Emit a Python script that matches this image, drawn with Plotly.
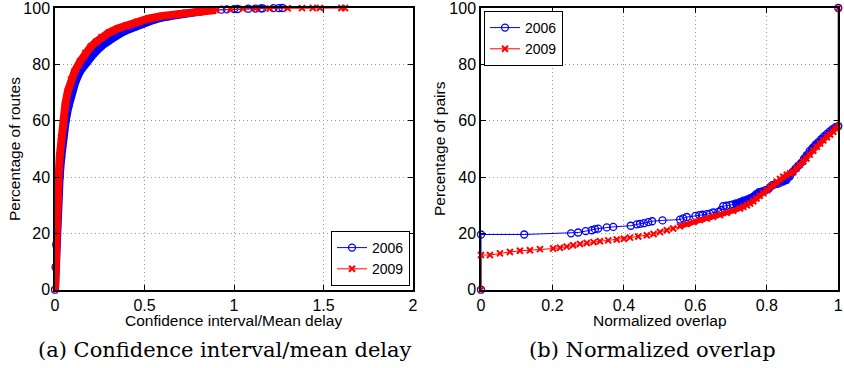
import plotly.graph_objects as go

# ---------------- (a) Confidence interval / mean delay (CDF) ----------------
a_2006_x = [0, 0.003, 0.007, 0.012, 0.018, 0.026, 0.035, 0.045, 0.06, 0.075, 0.092, 0.115,
            0.14, 0.18, 0.22, 0.26, 0.30, 0.34, 0.39, 0.45, 0.50, 0.56, 0.63, 0.72, 0.82,
            0.93, 0.96, 1.0, 1.02, 1.08, 1.12, 1.15, 1.16, 1.22, 1.25, 1.27]
a_2006_y = [0, 8, 16, 25, 33, 40, 47, 54, 60, 65, 70, 74,
            77.5, 81, 84, 86.5, 88.5, 90, 91.8, 93.5, 94.8, 96, 97, 98, 98.8,
            99.4, 99.5, 99.6, 99.65, 99.75, 99.8, 99.85, 99.9, 99.95, 99.98, 100]

a_2009_x = [0, 0.002, 0.005, 0.009, 0.014, 0.02, 0.026, 0.034, 0.045, 0.058, 0.072, 0.09,
            0.11, 0.14, 0.17, 0.20, 0.23, 0.26, 0.30, 0.35, 0.40, 0.46, 0.52, 0.60, 0.70,
            0.80, 0.90, 0.98, 1.05, 1.12, 1.20, 1.30, 1.38, 1.44, 1.48, 1.60, 1.62]
a_2009_y = [0, 8, 16, 25, 33, 40, 47, 54, 60, 66, 70.5, 74.5,
            77.5, 81, 84, 86.3, 88, 89.6, 91.2, 92.7, 93.9, 95.1, 96.2, 97.2, 98.1,
            98.8, 99.3, 99.5, 99.7, 99.8, 99.85, 99.9, 99.95, 99.97, 100, 100, 100]

# ---------------- (b) Normalized overlap (CDF) ----------------
b_2006_x = [0, 0, 0.121, 0.252, 0.272, 0.293, 0.310, 0.319, 0.328, 0.352, 0.370, 0.419,
            0.436, 0.445, 0.456, 0.468, 0.479, 0.508, 0.557, 0.566, 0.576, 0.600, 0.611,
            0.620, 0.632, 0.641, 0.650, 0.664, 0.672, 0.678, 0.687, 0.697, 0.705, 0.714,
            0.725, 0.734, 0.744, 0.753, 0.762, 0.770, 0.778, 0.787, 0.796, 0.805, 0.814,
            0.822, 0.830, 0.838, 0.846, 0.855, 0.864, 0.872, 0.880, 0.888, 0.896, 0.904,
            0.912, 0.920, 0.928, 0.936, 0.944, 0.952, 0.960, 0.968, 0.976, 0.984, 0.992,
            1.0, 1.0]
b_2006_y = [0, 19.6, 19.6, 20.0, 20.3, 20.8, 21.1, 21.5, 21.7, 22.1, 22.3, 22.7,
            23.2, 23.4, 23.6, 24.0, 24.3, 24.6, 24.9, 25.3, 25.8, 26.2, 26.5,
            26.6, 26.8, 27.0, 27.4, 27.6, 28.3, 29.7, 29.8, 30.0, 30.3, 30.6,
            31.1, 31.6, 32.0, 32.5, 33.0, 33.9, 34.6, 34.9, 35.3, 35.8, 37.0,
            37.4, 37.6, 38.0, 38.5, 38.9, 40.2, 41.8, 43.0, 44.0, 45.0, 46.5,
            47.8, 49.3, 50.3, 51.5, 52.4, 53.4, 54.4, 55.3, 56.2, 57.0, 57.7,
            58.1, 100]

b_2009_x = [0, 0, 0.025, 0.053, 0.081, 0.109, 0.137, 0.165, 0.202, 0.221, 0.240, 0.258,
            0.277, 0.296, 0.315, 0.333, 0.356, 0.380, 0.400, 0.417, 0.440, 0.464, 0.483,
            0.501, 0.520, 0.538, 0.557, 0.576, 0.595, 0.613, 0.632, 0.650, 0.669, 0.688,
            0.706, 0.725, 0.734, 0.744, 0.753, 0.762, 0.771, 0.780, 0.790, 0.800, 0.809,
            0.818, 0.828, 0.837, 0.846, 0.856, 0.865, 0.874, 0.883, 0.892, 0.902, 0.911,
            0.920, 0.930, 0.940, 0.949, 0.958, 0.968, 0.977, 0.986, 0.993, 1.0, 1.0]
b_2009_y = [0, 12.3, 12.3, 12.9, 13.4, 13.8, 14.0, 14.4, 14.6, 14.9, 15.3, 15.8,
            16.2, 16.6, 16.9, 17.2, 17.5, 17.8, 18.1, 18.5, 18.9, 19.3, 19.8,
            20.5, 21.1, 21.7, 22.5, 23.3, 24.0, 24.7, 25.3, 25.9, 26.5, 27.3,
            28.0, 28.8, 29.4, 30.0, 30.6, 31.4, 32.4, 33.3, 34.3, 35.3, 36.4,
            37.2, 38.3, 39.3, 40.1, 40.8, 41.3, 41.8, 43.0, 44.3, 45.5, 46.6,
            48.0, 49.3, 50.7, 51.9, 53.0, 54.1, 55.1, 56.1, 57.2, 58.0, 100]

series_names = ["2006", "2009"]
a_xticks = [0, 0.5, 1, 1.5, 2]
b_xticks = [0, 0.2, 0.4, 0.6, 0.8, 1]
yticks = [0, 20, 40, 60, 80, 100]

BLUE = "#0000ff"
RED = "#ff0000"
W, H = 844, 368
SANS = "Liberation Sans, Arial, sans-serif"

fig = go.Figure()

def band(xs, ys, xmin, xmax, ymax=99.99):
    pts = [(x, y) for x, y in zip(xs, ys) if xmin <= x <= xmax and y <= ymax]
    return [p[0] for p in pts], [p[1] for p in pts]

blue_marker = dict(symbol="circle-open", size=7, color=BLUE, line=dict(width=1.3, color=BLUE))
red_marker = dict(symbol="x-thin", size=6, color=RED, line=dict(width=2, color=RED))

def add_band(xs, ys, xmin, xmax, color, width, xa, ya):
    bx, by = band(xs, ys, xmin, xmax)
    fig.add_trace(go.Scatter(x=bx, y=by, mode="lines", line=dict(color=color, width=width),
                             showlegend=False, hoverinfo="skip", xaxis=xa, yaxis=ya))

def add_series(xs, ys, name, color, marker, leg, xa, ya):
    fig.add_trace(go.Scatter(x=xs, y=ys, mode="lines+markers", name=name,
                             line=dict(color=color, width=1), marker=marker, cliponaxis=False,
                             legend=leg, xaxis=xa, yaxis=ya))

# (a) thick bands (dense markers in the original) + thin tail with markers
add_band(a_2006_x, a_2006_y, 0, 0.9, BLUE, 8, "x", "y")
add_series(a_2006_x, a_2006_y, series_names[0], BLUE, blue_marker, "legend", "x", "y")
add_band(a_2009_x, a_2009_y, 0, 0.9, RED, 8, "x", "y")
add_series(a_2009_x, a_2009_y, series_names[1], RED, red_marker, "legend", "x", "y")

# (b)
add_band(b_2006_x, b_2006_y, 0.7, 1.0, BLUE, 6, "x2", "y2")
add_series(b_2006_x, b_2006_y, series_names[0], BLUE, blue_marker, "legend2", "x2", "y2")
add_band(b_2009_x, b_2009_y, 0.55, 1.0, RED, 5, "x2", "y2")
add_series(b_2009_x, b_2009_y, series_names[1], RED, red_marker, "legend2", "x2", "y2")

tickfont = dict(family=SANS, size=16, color="black")
common = dict(showline=True, linecolor="black", linewidth=1.5, mirror="ticks",
              ticks="inside", ticklen=5, tickwidth=1, tickcolor="black",
              showgrid=True, gridcolor="#9a9a9a", griddash="1px,3px", gridwidth=1,
              zeroline=False, tickfont=tickfont, fixedrange=True,
              automargin=False, ticklabeloverflow="allow")

ytop = 1 - 8 / H
ybot = 1 - 289.7 / H
legfont = dict(family=SANS, size=14, color="black")
fig.update_layout(
    width=W, height=H,
    margin=dict(l=0, r=0, t=0, b=0, autoexpand=False),
    paper_bgcolor="white", plot_bgcolor="white",
    xaxis=dict(domain=[55 / W, 413 / W], range=[0, 2], tickvals=a_xticks, anchor="y", **common),
    yaxis=dict(domain=[ybot, ytop], range=[0, 100], tickvals=yticks, anchor="x", **common),
    xaxis2=dict(domain=[481 / W, 838.3 / W], range=[0, 1], tickvals=b_xticks, anchor="y2", **common),
    yaxis2=dict(domain=[ybot, ytop], range=[0, 100], tickvals=yticks, anchor="x2", **common),
    legend=dict(x=410 / W, y=1 - 286 / H, xanchor="right", yanchor="bottom",
                bgcolor="white", bordercolor="black", borderwidth=1,
                font=legfont, tracegroupgap=0, itemwidth=30),
    legend2=dict(x=484 / W, y=1 - 11 / H, xanchor="left", yanchor="top",
                 bgcolor="white", bordercolor="black", borderwidth=1,
                 font=legfont, tracegroupgap=0, itemwidth=30),
    showlegend=True,
)

labfont = dict(family=SANS, size=15.5, color="black")
capfont = dict(family="DejaVu Serif, Liberation Serif, serif", size=21, color="black")
ann = [
    dict(text="Confidence interval/Mean delay", x=234 / W, y=1 - 320 / H, font=labfont),
    dict(text="Normalized overlap", x=659.5 / W, y=1 - 320 / H, font=labfont),
    dict(text="Percentage of routes", x=14 / W, y=1 - 149 / H, font=labfont, textangle=-90),
    dict(text="Percentage of pairs", x=439 / W, y=1 - 149 / H, font=labfont, textangle=-90),
    dict(text="(a) Confidence interval/mean delay", x=225 / W, y=1 - 350 / H, font=capfont),
    dict(text="(b) Normalized overlap", x=652 / W, y=1 - 350 / H, font=capfont),
]
for a in ann:
    fig.add_annotation(xref="paper", yref="paper", xanchor="center", yanchor="middle",
                       showarrow=False, **a)

fig.write_html("out.html", config={"displayModeBar": False},
               post_script="document.body.style.margin='0';document.body.style.overflow='hidden';")
